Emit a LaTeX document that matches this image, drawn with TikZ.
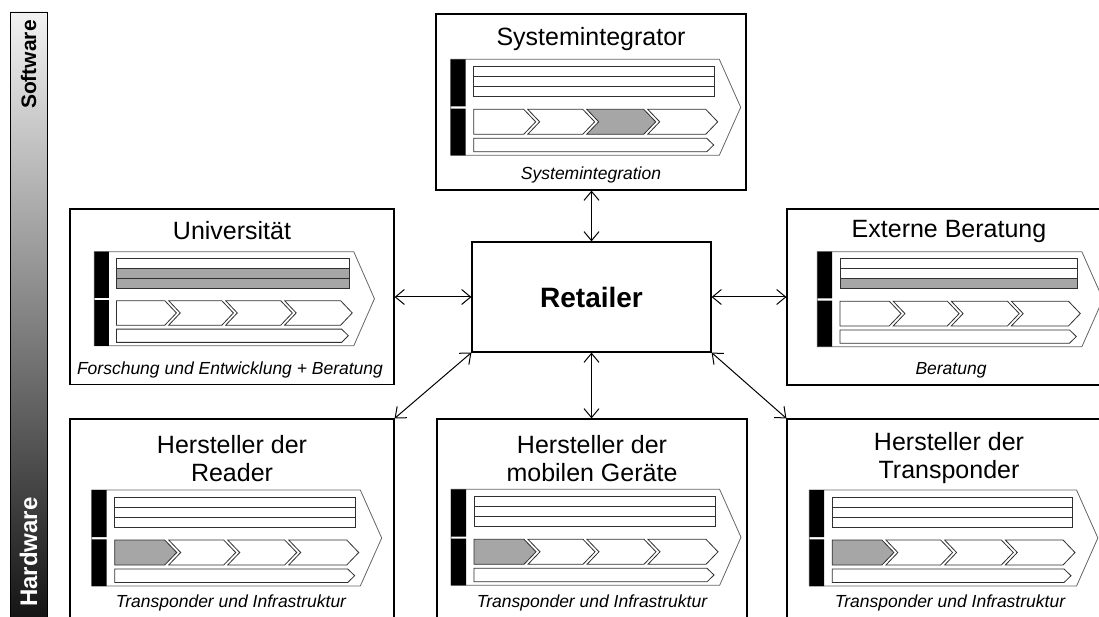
\documentclass[tikz,border=0pt]{standalone}
\usepackage{fontspec}
\setmainfont{Liberation Sans}
\usetikzlibrary{arrows.meta}

\definecolor{hl}{HTML}{A6A6A6}
\definecolor{frameg}{HTML}{666666}
\definecolor{lineg}{HTML}{303030}

\tikzset{
  box/.style={draw=black, line width=1.2pt, fill=white, inner sep=0pt},
  title/.style={font=\fontsize{25}{28}\selectfont, align=center, inner sep=0pt},
  sub/.style={font=\fontsize{17.5}{20}\selectfont\itshape, inner sep=0pt},
  side/.style={font=\fontsize{22}{24}\selectfont\bfseries, inner sep=0pt},
  conn/.style={line width=1pt,
    arrows={Straight Barb[length=9pt,width=15pt]-Straight Barb[length=9pt,width=15pt]}},
  vcframe/.style={draw=frameg, line width=0.8pt, fill=white},
  vcshape/.style={draw=lineg, line width=0.8pt, fill=white},
  vcrowA/.style={vcshape}, vcrowB/.style={vcshape}, vcrowC/.style={vcshape},
  vcchevA/.style={vcshape}, vcchevB/.style={vcshape},
  vcchevC/.style={vcshape}, vcchevD/.style={vcshape},
  vcpart/.style={vcshape}
}

% value chain glyph: #1 top-left corner, #2 xscale, #3 yscale, #4 style overrides
\newcommand\valuechain[4]{%
  \begin{scope}[shift={(#1)}, xscale=#2, yscale=#3, #4]
    \draw[vcframe] (0,0) -- (268.6,0) -- (290,48) -- (268.6,96) -- (0,96) -- cycle;
    \fill[black] (0,0) rectangle (15,47.2) (0,49.4) rectangle (15,96);
    \draw[vcrowA] (23,7) rectangle (264,17);
    \draw[vcrowB] (23,17) rectangle (264,27);
    \draw[vcrowC] (23,27) rectangle (264,37);
    \draw[vcchevA] (23,50) -- (73,50) -- (85,62.5) -- (73,75) -- (23,75) -- cycle;
    \draw[vcchevB] (77,50) -- (132,50) -- (144,62.5) -- (132,75) -- (77,75) -- (89,62.5) -- cycle;
    \draw[vcchevC] (136,50) -- (193,50) -- (205,62.5) -- (193,75) -- (136,75) -- (148,62.5) -- cycle;
    \draw[vcchevD] (197,50) -- (255,50) -- (267,62.5) -- (255,75) -- (197,75) -- (209,62.5) -- cycle;
    \draw[vcpart] (23,79) -- (256,79) -- (263,85.7) -- (256,92.5) -- (23,92.5) -- cycle;
  \end{scope}}

\begin{document}
\begin{tikzpicture}[x=1pt, y=-1pt]
  \useasboundingbox (0,0) rectangle (1099,617);
  \clip (0,0) rectangle (1099,617);

  % software / hardware scale
  \shadedraw[top color=black!5, middle color=black!28, bottom color=black!95,
    draw=black, line width=0.6pt] (10,12) rectangle (47,640);
  \node[side, rotate=90, anchor=east, font=\fontsize{21}{24}\selectfont\bfseries] (sw) at (28.5,20) {Software};
  \node[side, rotate=90, anchor=west, text=white, font=\fontsize{24}{26}\selectfont\bfseries] (hw) at (28.5,607) {Hardware};

  % actor boxes
  \node[box, minimum width=310, minimum height=176] (sys) at (591,102) {};
  \node[box, minimum width=324, minimum height=175.5] (uni) at (232,296.75) {};
  \node[box, minimum width=325, minimum height=176] (ext) at (949.5,297) {};
  \node[box, minimum width=324, minimum height=241] (rdr) at (232,539.5) {};
  \node[box, minimum width=310, minimum height=241] (mob) at (592,539.5) {};
  \node[box, minimum width=325, minimum height=241] (trp) at (949.5,539.5) {};
  \node[box, minimum width=239, minimum height=110,
    font=\fontsize{28}{32}\selectfont\bfseries] (ret) at (591.5,297) {Retailer};

  % titles and activities
  \node[title] (sysT) at (591,39) {Systemintegrator};
  \node[sub] (sysS) at (591,175) {Systemintegration};
  \node[title] (uniT) at (232,231) {Universität};
  \node[sub] (uniS) at (230,370) {Forschung und Entwicklung + Beratung};
  \node[title] (extT) at (949,231) {Externe Beratung};
  \node[sub] (extS) at (951,370) {Beratung};
  \node[title] (rdrT) at (232,458.5) {Hersteller der\\Reader};
  \node[sub] (rdrS) at (231,603) {Transponder und Infrastruktur};
  \node[title] (mobT) at (592,458.5) {Hersteller der\\mobilen Geräte};
  \node[sub] (mobS) at (592,603) {Transponder und Infrastruktur};
  \node[title] (trpT) at (949,458.5) {Hersteller der\\Transponder};
  \node[sub] (trpS) at (950,603) {Transponder und Infrastruktur};

  % value chains
  \valuechain{450.7,59.3}{1}{1}{vcchevC/.style={vcshape,fill=hl}}
  \valuechain{94.3,251.7}{0.966}{0.98}{vcrowB/.style={vcshape,fill=hl},vcrowC/.style={vcshape,fill=hl}}
  \valuechain{817.3,251.7}{0.985}{0.99}{vcrowC/.style={vcshape,fill=hl}}
  \valuechain{91.7,490}{1}{1}{vcchevA/.style={vcshape,fill=hl}}
  \valuechain{451,489.3}{1}{1}{vcchevA/.style={vcshape,fill=hl}}
  \valuechain{809.3,490}{0.995}{1}{vcchevA/.style={vcshape,fill=hl}}

  % relations to the retailer
  \draw[conn] (ret.north |- sys.south) -- (ret.north);
  \draw[conn] (uni.east |- ret.west) -- (ret.west);
  \draw[conn] (ret.east) -- (ext.west |- ret.east);
  \draw[conn] (ret.south west) -- (rdr.north east);
  \draw[conn] (ret.south) -- (ret.south |- mob.north);
  \draw[conn] (ret.south east) -- (trp.north west);
\end{tikzpicture}
\end{document}
